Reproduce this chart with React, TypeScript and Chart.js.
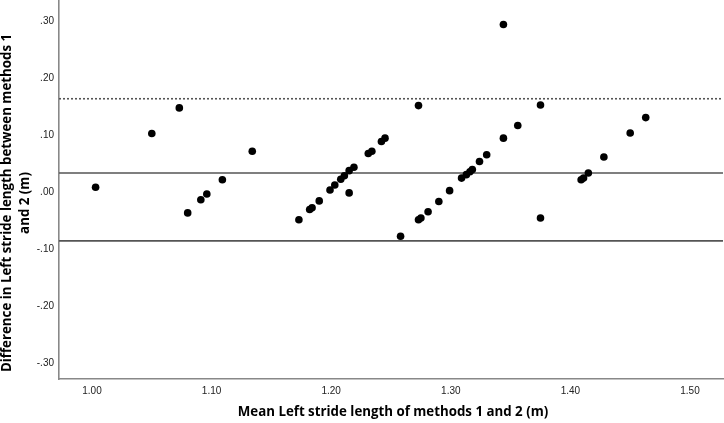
import React, { useEffect, useRef } from "react";
import { Chart, registerables } from "chart.js";

Chart.register(...registerables);

// Mean of methods 1 and 2 (m)
const meanLength = [
  1.003, 1.050, 1.073, 1.080, 1.091, 1.096, 1.109, 1.134,
  1.173, 1.182, 1.184, 1.190, 1.199, 1.203, 1.208, 1.211, 1.215, 1.215, 1.219,
  1.231, 1.234, 1.242, 1.245, 1.273,
  1.258, 1.273, 1.275, 1.281, 1.290, 1.299, 1.309, 1.313, 1.316, 1.318, 1.324, 1.330,
  1.344, 1.344, 1.356, 1.375, 1.375,
  1.409, 1.411, 1.415, 1.428, 1.450, 1.463,
];
// Difference between methods 1 and 2 (m)
const difference = [
  0.009, 0.103, 0.148, -0.036, -0.013, -0.003, 0.022, 0.072,
  -0.048, -0.030, -0.027, -0.015, 0.004, 0.013, 0.023, 0.029, -0.001, 0.038, 0.044,
  0.068, 0.072, 0.089, 0.095, 0.152,
  -0.077, -0.048, -0.045, -0.034, -0.016, 0.003, 0.025, 0.031, 0.036, 0.040, 0.054, 0.066,
  0.095, 0.294, 0.117, 0.153, -0.045,
  0.022, 0.025, 0.034, 0.062, 0.104, 0.131,
];
const upperLimit = 0.164;
const meanDifference = 0.034;
const lowerLimit = -0.085;

const xTickValues = [1.0, 1.1, 1.2, 1.3, 1.4, 1.5];
const yTickValues = [-0.3, -0.2, -0.1, 0.0, 0.1, 0.2, 0.3];
const xRange = [0.9724, 1.5276];
const yRange = [-0.327, 0.337];

const xTitle = "Mean Left stride length of methods 1 and 2 (m)";
const yTitle = ["Difference in Left stride length between methods 1", "and 2 (m)"];

const fmtY = (v: number) => {
  const s = Math.abs(v).toFixed(2).replace(/^0/, "");
  return (v < -1e-9 ? "-" : "") + s;
};

export default function App() {
  const ref = useRef<HTMLCanvasElement | null>(null);
  useEffect(() => {
    if (!ref.current) return;
    const titles = {
      id: "customTitles",
      afterDraw(chart: any) {
        const ctx = chart.ctx;
        ctx.save();
        ctx.fillStyle = "#000";
        ctx.font = 'bold 13.3px "Open Sans"';
        ctx.textAlign = "center";
        ctx.textBaseline = "middle";
        ctx.fillText(xTitle, 393, 412);
        ctx.translate(0, 203);
        ctx.rotate(-Math.PI / 2);
        ctx.fillText(yTitle[0], 0, 7);
        ctx.fillText(yTitle[1], 0, 25);
        ctx.restore();
      },
    };
    const lineDs = (y: number, dash: number[], color: string) => ({
      type: "line" as const,
      data: [
        { x: xRange[0], y },
        { x: xRange[1], y },
      ],
      borderColor: color,
      borderWidth: 1.6,
      borderDash: dash,
      pointRadius: 0,
      pointHoverRadius: 0,
      fill: false,
      order: 2,
    });
    const zeroPad = (s: any) => {
      s.paddingTop = 0;
      s.paddingBottom = 0;
      s.paddingLeft = 0;
      s.paddingRight = 0;
    };
    const chart = new Chart(ref.current, {
      type: "scatter",
      data: {
        datasets: [
          {
            type: "scatter",
            data: meanLength.map((x, i) => ({ x, y: difference[i] })),
            backgroundColor: "#000",
            borderWidth: 0,
            pointRadius: 3.8,
            pointHoverRadius: 3.8,
            order: 1,
          } as any,
          lineDs(upperLimit, [2, 2], "#555"),
          lineDs(meanDifference, [], "#555"),
          lineDs(lowerLimit, [], "#555"),
        ],
      },
      options: {
        animation: false,
        responsive: false,
        events: [],
        layout: { autoPadding: false, padding: { top: 0, right: 1, left: 0, bottom: 0 } },
        plugins: { legend: { display: false }, tooltip: { enabled: false } },
        scales: {
          x: {
            type: "linear",
            min: xRange[0],
            max: xRange[1],
            afterBuildTicks: (s: any) => {
              s.ticks = xTickValues.map((v) => ({ value: v }));
            },
            afterFit: (s: any) => {
              s.height = 44;
              zeroPad(s);
            },
            grid: { display: false, drawTicks: false },
            border: { display: true, color: "#888", width: 1.6 },
            ticks: {
              color: "#222",
              font: { family: "Liberation Sans", size: 10 },
              padding: 6,
              maxRotation: 0,
              callback: (v: any) => Number(v).toFixed(2),
            },
          },
          y: {
            type: "linear",
            min: yRange[0],
            max: yRange[1],
            afterBuildTicks: (s: any) => {
              s.ticks = yTickValues.map((v) => ({ value: v }));
            },
            afterFit: (s: any) => {
              s.width = 59;
              zeroPad(s);
            },
            grid: { display: false, drawTicks: false },
            border: { display: true, color: "#888", width: 1.6 },
            ticks: {
              color: "#222",
              font: { family: "Liberation Sans", size: 10 },
              padding: 5,
              callback: (v: any) => fmtY(Number(v)),
            },
          },
        },
      },
      plugins: [titles],
    });
    return () => chart.destroy();
  }, []);
  return (
    <div style={{ position: "absolute", left: 0, top: 0, width: 724, height: 423, background: "#fff" }}>
      <canvas ref={ref} width={724} height={423} />
    </div>
  );
}
